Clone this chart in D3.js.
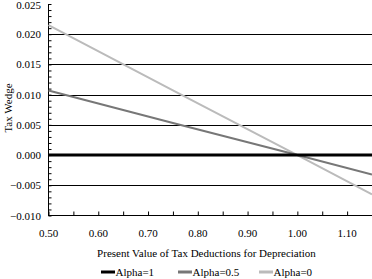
<!DOCTYPE html>
<html><head><meta charset="utf-8">
<script src="https://cdn.jsdelivr.net/npm/d3@7"></script>
<style>
html,body{margin:0;padding:0;background:#fff;}
</style></head>
<body><svg id="c" width="372" height="279" font-family="'Liberation Serif', 'DejaVu Serif', serif" font-size="11"></svg>
<script>
const xValues = [0.50, 0.75, 1.00, 1.15];
const alpha1 = [0, 0, 0, 0];
const alpha05 = [0.0107, 0.0053, 0, -0.0032];
const alpha0 = [0.0215, 0.0107, 0, -0.0065];
const seriesNames = ["Alpha=1", "Alpha=0.5", "Alpha=0"];
const xTicks = [0.50, 0.60, 0.70, 0.80, 0.90, 1.00, 1.10];
const yTicks = [-0.010, -0.005, 0.000, 0.005, 0.010, 0.015, 0.020, 0.025];

const svg = d3.select("#c");
const L = 48.5, R = 372, T = 4, B = 215.5;
const x = d3.scaleLinear().domain([0.5, 1.15]).range([L, R]);
const y = d3.scaleLinear().domain([-0.010, 0.025]).range([B, T]);

// grid lines
svg.append("g").selectAll("line").data(yTicks.filter(v => v > -0.010 && v < 0.025 && v !== 0))
  .join("line").attr("x1", L).attr("x2", R)
  .attr("y1", d => Math.round(y(d)) + 0.5).attr("y2", d => Math.round(y(d)) + 0.5)
  .attr("stroke", "#000").attr("stroke-width", 1);

// y axis
const yMinor = d3.range(-10, 26).map(v => v / 1000);
const yAxis = d3.axisRight(y).tickValues(yMinor).tickSize(3).tickFormat("");
svg.append("g").attr("transform", `translate(${L},0)`).call(yAxis)
  .call(g => g.select(".domain").remove())
  .call(g => g.selectAll("line").attr("stroke", "#000"));
svg.append("line").attr("x1", L).attr("x2", L).attr("y1", T).attr("y2", B + 0.5).attr("stroke", "#000");
svg.append("g").selectAll("text").data(yTicks).join("text")
  .attr("x", 41).attr("y", d => Math.max(y(d) + 4, 9)).attr("text-anchor", "end")
  .attr("fill", "#000")
  .text(d => d3.format(".3f")(d));

// x axis
const xMinor = d3.range(10, 24).map(v => v * 0.05);
const xAxis = d3.axisTop(x).tickValues(xMinor).tickSize(4).tickFormat("");
svg.append("g").attr("transform", `translate(0,${B})`).call(xAxis)
  .call(g => g.select(".domain").remove())
  .call(g => g.selectAll("line").attr("stroke", "#000"));
svg.append("line").attr("x1", L).attr("x2", R).attr("y1", B).attr("y2", B).attr("stroke", "#000");
svg.append("g").selectAll("text").data(xTicks).join("text")
  .attr("x", d => x(d)).attr("y", 237).attr("text-anchor", "middle")
  .attr("fill", "#000")
  .text(d => d3.format(".2f")(d));

// lines
const colors = ["#000", "#777", "#bbb"];
const widths = [3, 2, 2];
const seriesData = [alpha1, alpha05, alpha0];
const line = d3.line().x((d, i) => x(xValues[i])).y(d => y(d));
[2, 1, 0].forEach(k => {
  svg.append("path").datum(seriesData[k]).attr("d", line)
    .attr("fill", "none").attr("stroke", colors[k]).attr("stroke-width", widths[k]);
});

// titles
svg.append("text").attr("x", 206.5).attr("y", 256.5).attr("text-anchor", "middle")
  .text("Present Value of Tax Deductions for Depreciation");
svg.append("text").attr("transform", "translate(12,108) rotate(-90)").attr("text-anchor", "middle")
  .text("Tax Wedge");

// legend
const legX = [101, 178, 259];
seriesNames.forEach((n, i) => {
  const g = svg.append("g").attr("transform", `translate(${legX[i]},272)`);
  g.append("line").attr("x1", 0).attr("x2", 14).attr("y1", 0).attr("y2", 0)
    .attr("stroke", colors[i]).attr("stroke-width", 3);
  g.append("text").attr("x", 14.5).attr("y", 4).text(n);
});
</script></body></html>
